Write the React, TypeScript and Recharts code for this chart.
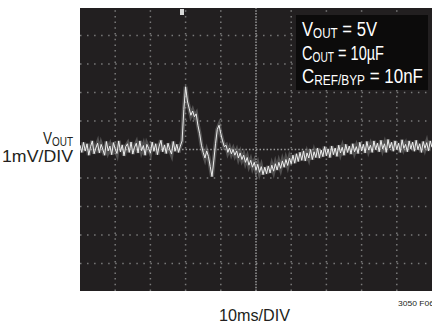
import React from 'react';
import { LineChart, Line, XAxis, YAxis, ReferenceLine, ReferenceArea } from 'recharts';

// scope trace: VOUT in mV, one sample every 0.5 ms across the 100 ms screen
const SAMPLE_MS = 0.5;
const samples = [
  // before the load step
  0.15, -0.1, 0.25, -0.05, 0.2, -0.2, 0.1, 0.3, -0.15, 0.05,
  0.22, -0.12, 0.18, 0.0, -0.2, 0.28, -0.05, 0.12, -0.18, 0.24,
  0.02, -0.14, 0.3, -0.08, 0.16, -0.22, 0.1, 0.2, -0.1, 0.26,
  -0.16, 0.08, 0.22, -0.12, 0.3, -0.04, 0.14, -0.2, 0.18, 0.04,
  -0.12, 0.26, -0.06, 0.2, -0.18, 0.12, 0.32, -0.08, 0.16, -0.14,
  0.22, 0.0, -0.16, 0.28, -0.06, 0.18, -0.1, 0.12,
  // transient
  0.3, 1.4, 2.2, 1.7, 1.45, 1.2, 1.35, 1.15, 1.25, 0.85,
  0.55, 0.15, -0.1, -0.3, -0.05, -0.25, -0.6, -0.95, -0.4, 0.2,
  0.7, 0.85, 0.55, 0.3, 0.1, 0.15, -0.1, 0.05, -0.15, 0.0,
  -0.2, -0.05, -0.3, -0.12, -0.35, -0.2, -0.45, -0.28, -0.55, -0.38,
  -0.62, -0.45, -0.72, -0.52, -0.8, -0.6, -0.88, -0.62, -0.85, -0.58,
  -0.82, -0.55, -0.76, -0.5, -0.72, -0.45, -0.66, -0.4, -0.62, -0.35,
  -0.56, -0.3, -0.5,
  // recovery
  -0.2, -0.48, -0.15, -0.42, -0.1, -0.38, -0.05, -0.4, -0.12, -0.3,
  0.0, -0.35, -0.08, -0.28, 0.05, -0.3, -0.02, -0.25, 0.1, -0.22,
  0.02, -0.28, 0.12, -0.18, 0.05, -0.24, 0.15, -0.12, 0.08, -0.2,
  0.18, -0.1, 0.12, -0.16, 0.2, -0.08, 0.1, -0.14, 0.25, -0.05,
  0.18, -0.12, 0.28, -0.02, 0.15, -0.1, 0.3, 0.0, 0.22, -0.08,
  0.32, 0.02, 0.2, -0.1, 0.35, 0.05, 0.25, -0.06, 0.3, 0.0,
  0.22, -0.1, 0.34, 0.04, 0.18, -0.08, 0.3, 0.02, 0.26, -0.06,
  0.32, 0.0, 0.2, -0.1, 0.28, 0.04, 0.24, -0.05, 0.3, 0.08,
];

const xGrid = [10, 20, 30, 40, 60, 70, 80, 90];
const yGrid = [-4, -3, -2, -1, 1, 2, 3, 4];
const X_DOMAIN: [number, number] = [0, 100];
const Y_DOMAIN: [number, number] = [-4.96, 4.96];

const legendLines = [
  { main: 'V', sub: 'OUT', rest: ' = 5V', width: 75 },
  { main: 'C', sub: 'OUT', rest: ' = 10µF', width: 82 },
  { main: 'C', sub: 'REF/BYP', rest: ' = 10nF', width: 121 },
];

const data = samples.map((v, i) => ({ t: i * SAMPLE_MS, v }));

const FONT = "'Liberation Sans', Arial, sans-serif";
const SCREEN = '#221f20';
const DOTS = '#7a7a7a';

export default function App() {
  return (
    <div style={{ position: 'absolute', left: 0, top: 0, width: 432, height: 324, background: '#fff', overflow: 'hidden' }}>
      <LineChart width={432} height={324} data={data} margin={{ top: 8, right: 0, bottom: 33, left: 80 }}>
        <XAxis type="number" dataKey="t" domain={X_DOMAIN} hide allowDataOverflow />
        <YAxis type="number" domain={Y_DOMAIN} hide allowDataOverflow />
        <ReferenceArea x1={X_DOMAIN[0]} x2={X_DOMAIN[1]} y1={Y_DOMAIN[0]} y2={Y_DOMAIN[1]} fill={SCREEN} fillOpacity={1} stroke="none" />
        {xGrid.map((x) => (
          <ReferenceLine key={'x' + x} x={x} stroke={DOTS} strokeWidth={1.5} strokeDasharray="1.5 4.2" />
        ))}
        {yGrid.map((y) => (
          <ReferenceLine key={'y' + y} y={y} stroke={DOTS} strokeWidth={1.5} strokeDasharray="1.5 5.54" />
        ))}
        <ReferenceLine x={50} stroke="#9a9a9a" strokeWidth={1.5} strokeDasharray="1.5 1.35" />
        <ReferenceLine y={0} stroke="#9a9a9a" strokeWidth={1.5} strokeDasharray="1.5 2.02" />
        <Line
          dataKey="v"
          type="linear"
          stroke="#8c8c8c"
          strokeOpacity={0.45}
          strokeWidth={4}
          dot={false}
          isAnimationActive={false}
        />
        <Line
          dataKey="v"
          type="linear"
          stroke="#eeeeee"
          strokeWidth={1}
          dot={false}
          isAnimationActive={false}
        />
      </LineChart>
      <svg width={432} height={324} style={{ position: 'absolute', left: 0, top: 0 }} fontFamily={FONT}>
        <rect x={180} y={9} width={4} height={6} fill="#d8d8d8" />
        <rect x={296} y={15} width={132} height={75} fill="#0c0b0b" />
        {legendLines.map((l, i) => (
          <text
            key={i}
            x={302}
            y={36 + i * 23.5}
            fill="#fff"
            fontSize={20}
            textLength={l.width}
            lengthAdjust="spacingAndGlyphs"
          >
            {l.main}
            <tspan fontSize={14} dy={2}>{l.sub}</tspan>
            <tspan dy={-2}>{l.rest}</tspan>
          </text>
        ))}
        <text x={43} y={144} fontSize={17} fill="#231f20" textLength={30} lengthAdjust="spacingAndGlyphs">
          V<tspan fontSize={12.5} dy={1.5}>OUT</tspan>
        </text>
        <text x={2} y={161.5} fontSize={17} fill="#231f20" textLength={71} lengthAdjust="spacingAndGlyphs">1mV/DIV</text>
        <text x={219} y={321} fontSize={17} fill="#231f20" textLength={71} lengthAdjust="spacingAndGlyphs">10ms/DIV</text>
        <text x={398} y={306} fontSize={8} fill="#231f20" textLength={36} lengthAdjust="spacingAndGlyphs">3050 F06</text>
      </svg>
    </div>
  );
}
